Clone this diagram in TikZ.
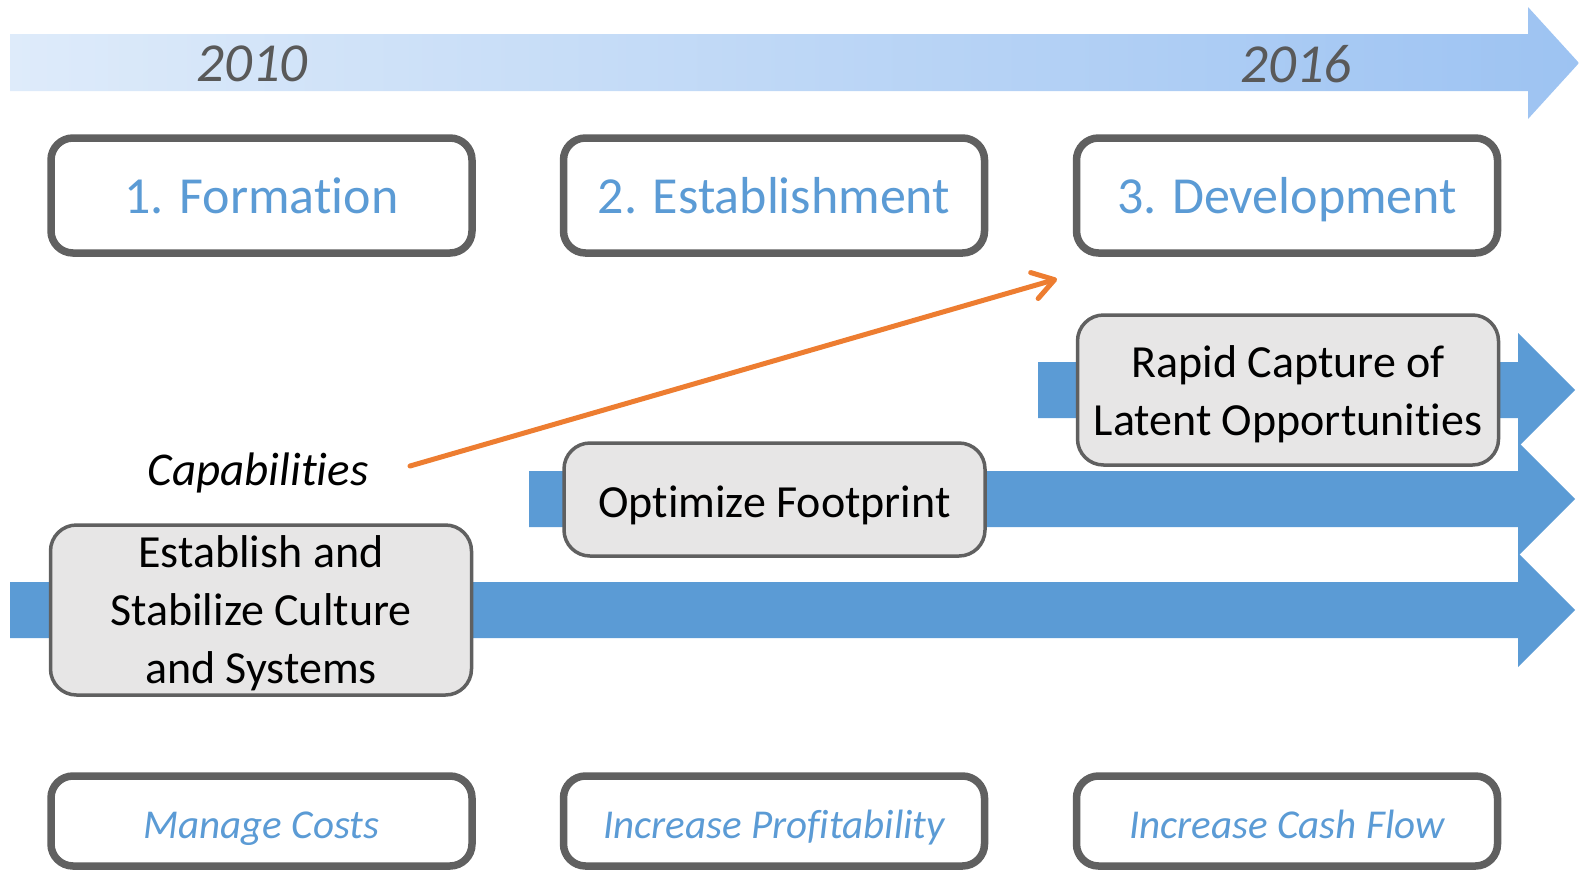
\documentclass[tikz,border=0pt]{standalone}
\usepackage{fontspec}
\setmainfont{Carlito}[Ligatures=NoCommon]
\usetikzlibrary{arrows.meta}
\definecolor{stageblue}{HTML}{5B9BD5}
\definecolor{framegray}{HTML}{606060}
\definecolor{boxfill}{HTML}{E7E6E6}
\definecolor{yeargray}{HTML}{595959}
\definecolor{orangeline}{HTML}{ED7D31}
\definecolor{timeL}{HTML}{DEEBFA}
\definecolor{timeR}{HTML}{9DC3F2}

% struts that fix the first-line height and last-line depth of the grey boxes
\newcommand{\firstlinestrut}{\rule{0pt}{40pt}}
\newcommand{\lastlinestrut}{\rule[-9pt]{0pt}{9pt}}

\begin{document}
\begin{tikzpicture}[x=1pt,y=-1pt,
  stagebox/.style={draw=framegray, line width=7.5pt, rounded corners=22pt, fill=white,
    minimum width=421pt, minimum height=115pt, inner sep=0pt, text=stageblue,
    text height=35pt, text depth=0pt, font=\fontsize{52}{60}\selectfont},
  goalbox/.style={stagebox, minimum height=90pt, text height=34pt,
    font=\fontsize{41}{48}\selectfont\itshape},
  actbox/.style={draw=framegray, line width=3.5pt, rounded corners=26pt, fill=boxfill,
    minimum width=421pt, inner sep=0pt, align=center, font=\fontsize{46}{58}\selectfont},
  yearlabel/.style={text=yeargray, inner sep=0pt, font=\fontsize{55}{60}\selectfont\itshape},
  track/.style={fill=stageblue},
  capline/.style={draw=orangeline, line width=5pt, line cap=round, line join=round,
    -{Straight Barb[length=21pt, width=27pt, line cap=round, line join=round]}}
]
\useasboundingbox (0,0) rectangle (1579,871);

% timeline arrow
\shade[left color=timeL, right color=timeR]
  (10,34) -- (1528,34) -- (1528,7) -- (1579,63) -- (1528,119) -- (1528,91) -- (10,91) -- cycle;
\node[yearlabel] (y2010) at (252,64) {2010};
\node[yearlabel] (y2016) at (1296,64) {2016};

% capability tracks
\fill[track] (10,582) -- (1518,582) -- (1518,553) -- (1575,610) -- (1518,667) -- (1518,638) -- (10,638) -- cycle;
\fill[track] (529,471) -- (1518,471) -- (1518,442) -- (1575,499) -- (1518,556) -- (1518,527) -- (529,527) -- cycle;
\fill[track] (1038,362) -- (1518,362) -- (1518,333) -- (1575,390) -- (1518,447) -- (1518,418) -- (1038,418) -- cycle;

% stages
\node[stagebox] (formation) at (261.5,195.5) {1. Formation};
\node[stagebox] (establishment) at (774,195.5) {2. Establishment};
\node[stagebox] (development) at (1287,195.5) {3. Development};

% capabilities
\node[actbox, minimum height=170pt] (culture) at (261,610)
  {\firstlinestrut Establish and\\Stabilize Culture\\and Systems\lastlinestrut};
\node[actbox, minimum height=113pt, text height=35pt, text depth=0pt] (footprint) at (774.5,499.5)
  {Optimize Footprint};
\node[actbox, minimum height=150pt] (capture) at (1288,390)
  {\rule{0pt}{41pt}Rapid Capture of\\Latent Opportunities\lastlinestrut};

\node[anchor=base, inner sep=0pt, font=\fontsize{47}{58}\selectfont\itshape] (cap) at (258,485) {Capabilities};
\coordinate (capstart) at (410,466);
\coordinate (captip) at (1057,279);
\draw[capline] (capstart) -- (captip);

% goals
\node[goalbox] (costs) at (261.5,821) {Manage Costs};
\node[goalbox] (profit) at (774,821) {Increase Profitability};
\node[goalbox] (cash) at (1287,821) {Increase Cash Flow};
\end{tikzpicture}
\end{document}
